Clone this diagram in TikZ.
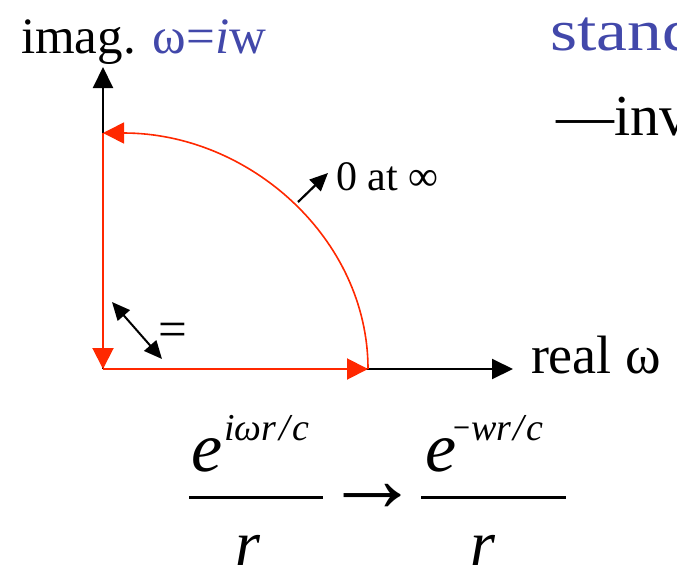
\documentclass[tikz,border=0pt]{standalone}
\usepackage{fontspec}
\setmainfont{Liberation Serif}
\usetikzlibrary{arrows.meta}
\definecolor{hred}{RGB}{255,40,0}
\definecolor{hblue}{RGB}{66,72,170}
\begin{document}
\begin{tikzpicture}[x=1pt,y=-1pt,
  lbl/.style={inner sep=0pt, outer sep=0pt},
  big/.style={lbl, font=\fontsize{51}{60}\selectfont},
  real/.style={lbl, font=\fontsize{54}{62}\selectfont},
  head/.style={lbl, font=\fontsize{58}{66}\selectfont},
  small/.style={lbl, font=\fontsize{42}{50}\selectfont},
  ebig/.style={lbl, font=\fontsize{70}{80}\selectfont\itshape},
  rbig/.style={lbl, font=\fontsize{64}{74}\selectfont\itshape},
  esup/.style={lbl, font=\fontsize{38}{46}\selectfont\itshape},
  axis/.style={line width=2pt, -{Triangle[length=21pt,width=20pt]}},
  redpath/.style={hred, line width=2pt, -{Triangle[length=21pt,width=21pt]}},
  ptr/.style={line width=2.2pt, -{Triangle[length=18pt,width=16pt]}},
  dptr/.style={line width=2pt, {Triangle[length=18pt,width=16pt]}-{Triangle[length=18pt,width=16pt]}},
  fracbar/.style={line width=3pt}]
\clip (0,0) rectangle (677,573);
% coordinates
\coordinate (O) at (103,369);
\coordinate (Ytip) at (103,67);
\coordinate (Xtip) at (513,369);
\coordinate (R) at (368,369);
\coordinate (T) at (103,133);
\coordinate (D1) at (112,302);
\coordinate (D2) at (162,359);
\coordinate (P1) at (298,202);
\coordinate (P2) at (328,173);
% axes
\draw[axis] (O) -- (Ytip);
\draw[axis] (O) -- (Xtip);
% red contour
\draw[redpath] (O) -- (R);
\draw[hred, line width=1.6pt, -{Triangle[length=21pt,width=21pt]}] (R) arc[start angle=0, end angle=90, x radius=265pt, y radius=236pt];
\draw[redpath] (T) -- (O);
% small arrows
\draw[dptr] (D1) -- (D2);
\draw[ptr] (P1) -- (P2);
% labels
\node[big, anchor=base west] (imag) at (21,53) {imag. {\color{hblue}ω=\textit{i}w}};
\node[head, anchor=base west, text=hblue] (stand) at (550,50) {\scalebox{1.2}[1]{standard}};
\node[head, anchor=base west] (inv) at (556,135) {—inverse};
\node[small, anchor=base west] (zero) at (336,190) {0 at ∞};
\node[big, anchor=base] (eq) at (173,346) {=};
\node[real, anchor=base west] (real) at (531,373) {real ω};
% formula
\node[ebig, anchor=base west] (e1) at (191,471) {e};
\node[esup, anchor=base west] (s1) at (224,440) {iωr\hspace{3pt}/\hspace{3pt}c};
\draw[fracbar] (189,497) -- (323,497);
\node[rbig, anchor=base] (r1) at (248,565) {r};
\node[lbl, font=\fontsize{96}{100}\selectfont, anchor=center] (arr) at (372,498) {→};
\node[ebig, anchor=base west] (e2) at (425,471) {e};
\node[esup, anchor=base west] (s2) at (451,440) {\scalebox{0.8}[1]{−}wr\hspace{2pt}/\hspace{2pt}c};
\draw[fracbar] (421,497) -- (566,497);
\node[rbig, anchor=base] (r2) at (483,565) {r};
\end{tikzpicture}
\end{document}
